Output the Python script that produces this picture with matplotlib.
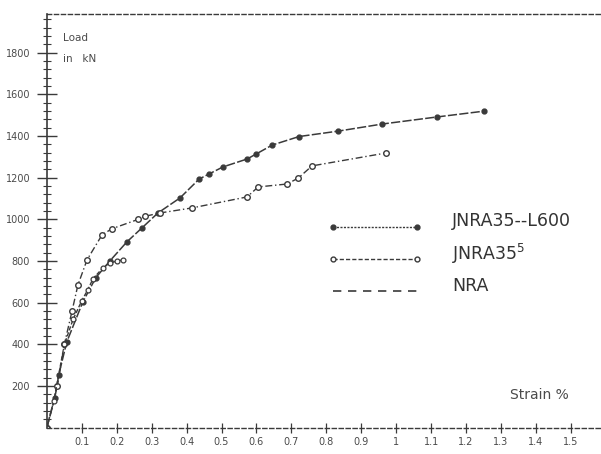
import numpy as np
import matplotlib
matplotlib.use("Agg")
import matplotlib.pyplot as plt

# JNRA35-L600 (filled dots)
strain_l600 = [0.0, 0.023, 0.034, 0.057, 0.103, 0.14, 0.18, 0.229, 0.272, 0.318, 0.381, 0.436,
               0.464, 0.504, 0.573, 0.599, 0.645, 0.722, 0.834, 0.96, 1.117, 1.252]
load_l600 = [0, 144, 254, 412, 604, 720, 800, 892, 959, 1031, 1103, 1194,
             1218, 1252, 1290, 1314, 1357, 1398, 1424, 1458, 1492, 1520]

# JNRA35^5 (short curve, open circles)
strain_j5 = [0.0, 0.02, 0.05, 0.075, 0.1, 0.117, 0.132, 0.16, 0.18, 0.2, 0.218]
load_j5 = [0, 130, 400, 520, 610, 662, 715, 767, 791, 800, 806]

# NRA (upper dashed curve)
strain_nra = [0.0, 0.03, 0.05, 0.072, 0.089, 0.115, 0.158, 0.186, 0.261, 0.281, 0.324,
              0.415, 0.573, 0.605, 0.688, 0.72, 0.759, 0.971]
load_nra = [0, 200, 400, 560, 686, 806, 926, 955, 1000, 1015, 1031,
            1055, 1108, 1156, 1170, 1199, 1257, 1319]

yticks = [200, 400, 600, 800, 1000, 1200, 1400, 1600, 1800]
xticks = [0.1, 0.2, 0.3, 0.4, 0.5, 0.6, 0.7, 0.8, 0.9, 1.0, 1.1, 1.2, 1.3, 1.4, 1.5]
xlabels = ['0.1', '0.2', '0.3', '0.4', '0.5', '0.6', '0.7', '0.8', '0.9', '1', '1.1',
           '1.2', '1.3', '1.4', '1.5']

ink = '#3a3a3a'
txt = '#4a4a4a'
fig = plt.figure(figsize=(6.01, 4.54), dpi=100)
ax = fig.add_axes([0.078, 0.058, 0.93, 0.911])

ax.plot(strain_l600, load_l600, color=ink, lw=1.1, ls=(0, (6, 1.5)), marker='o', ms=3.5,
        mfc=ink, mec=ink)
ax.plot(strain_nra, load_nra, color=ink, lw=1.0, ls=(0, (5, 2, 1, 2)), marker='o', ms=4,
        mfc='white', mec=ink, mew=1.0)
ax.plot(strain_j5, load_j5, color=ink, lw=1.0, ls=(0, (3, 1.5)), marker='o', ms=3.5,
        mfc='white', mec=ink, mew=0.9)

ax.set_xlim(0, 1.6)
ax.set_ylim(0, 1986)

ax.spines['right'].set_visible(False)
for s in ['top', 'bottom']:
    ax.spines[s].set_linestyle((0, (3, 2)))
    ax.spines[s].set_color(ink)
    ax.spines[s].set_linewidth(1.0)
ax.spines['left'].set_color(ink)
ax.spines['left'].set_linewidth(1.2)

ax.set_xticks(xticks)
ax.set_xticklabels(xlabels)
ax.set_yticks(yticks)
ax.set_yticks(np.arange(40, 1986, 40), minor=True)
ax.tick_params(axis='x', direction='inout', length=7, width=0.9, color=ink,
               labelsize=7, labelcolor=txt, pad=3)
ax.tick_params(axis='y', which='major', direction='inout', length=14, width=1.0, color=ink,
               labelsize=7, labelcolor=txt, pad=5)
ax.tick_params(axis='y', which='minor', direction='inout', length=6, width=0.8, color=ink)

ax.text(0.045, 1870, 'Load', fontsize=7.5, color=txt, va='center')
ax.text(0.045, 1770, 'in   kN', fontsize=7.5, color=txt, va='center')
ax.text(1.325, 155, 'Strain %', fontsize=10, color=txt, va='center')

# legend drawn by hand
legend_y = [965, 810, 655]
names = ['JNRA35--L600', 'JNRA35$^{5}$', 'NRA']
ax.plot([0.82, 1.06], [legend_y[0]] * 2, color=ink, lw=1.0, ls=(0, (1.5, 1)), marker='o',
        ms=3.5, mfc=ink, mec=ink)
ax.plot([0.82, 1.06], [legend_y[1]] * 2, color=ink, lw=1.0, ls=(0, (3, 1.5)), marker='o',
        ms=3.5, mfc='white', mec=ink)
ax.plot([0.82, 1.06], [legend_y[2]] * 2, color=ink, lw=1.2, ls=(0, (5, 4)))
for yy, name in zip(legend_y, names):
    ax.text(1.16, yy + 25, name, fontsize=12.5, color='#333333', va='center')

fig.savefig('out.png', dpi=100)
